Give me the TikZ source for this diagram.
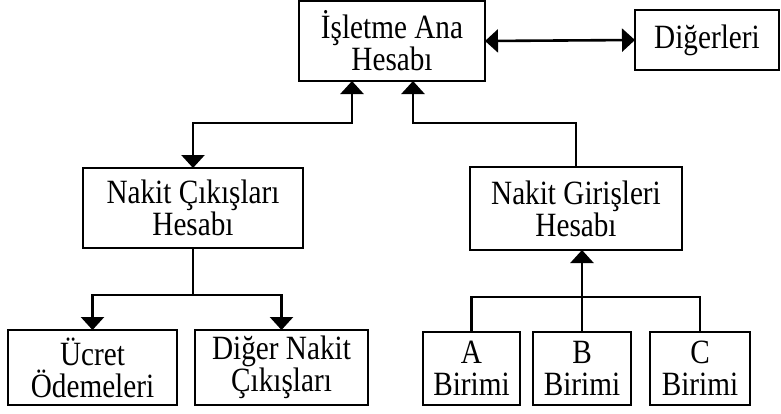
\documentclass[tikz,border=0pt]{standalone}
\usepackage{fontspec}
\setmainfont{Liberation Serif}[FakeStretch=0.86]
\usetikzlibrary{arrows.meta}
\begin{document}
\begin{tikzpicture}[x=1pt,y=-1pt,
  box/.style={draw,line width=2.8pt,inner sep=0pt,outer sep=0pt,align=center,
    font=\fontsize{34}{28}\selectfont},
  lowbox/.style={box,font=\fontsize{34}{32}\selectfont},
  link/.style={line width=2.6pt},
  tip/.style={-{Triangle[width=23pt,length=13pt]}},
  bitip/.style={{Triangle[width=23pt,length=13pt]}-{Triangle[width=23pt,length=13pt]}}]
\useasboundingbox (0,0) rectangle (781,413);

% account boxes
\node[box,minimum width=186pt,minimum height=80pt] (main) at (392,41) {İşletme Ana\\Hesabı};
\node[box,minimum width=144pt,minimum height=60pt] (others) at (707,40) {Diğerleri};
\node[box,minimum width=220pt,minimum height=80pt] (out) at (193,208) {Nakit Çıkışları\\Hesabı};
\node[box,minimum width=212pt,minimum height=83pt] (in) at (576,208.5) {Nakit Girişleri\\Hesabı};
\node[lowbox,minimum width=169pt,minimum height=75pt] (wage) at (92.5,367.5) {Ücret\\Ödemeleri};
\node[lowbox,minimum width=173pt,minimum height=75pt] (otherout) at (281.5,367.5) {Diğer Nakit\\Çıkışları};
\node[lowbox,minimum width=97pt,minimum height=73pt] (ua) at (471.5,368.5) {A\\Birimi};
\node[lowbox,minimum width=98pt,minimum height=73pt] (ub) at (582,368.5) {B\\Birimi};
\node[lowbox,minimum width=100pt,minimum height=73pt] (uc) at (700,368.5) {C\\Birimi};

% junction points
\coordinate (jl) at (352,123);
\coordinate (jr) at (413,123);
\coordinate (jo) at (193,295);
\coordinate (ji) at (582,297);

% links to the main account
\draw[link,bitip] (others.west) -- (main.east);
\draw[link,bitip] (out.north) |- (jl) -- (jl |- main.south);
\draw[link,tip] (in.north) |- (jr) -- (jr |- main.south);

% cash outflow branches
\draw[link] (out.south) -- (jo);
\draw[link,tip] (jo) -| (wage.north);
\draw[link,tip] (jo) -| (otherout.north);

% unit branches
\draw[link,tip] (ub.north) -- (ub.north |- in.south);
\draw[link] (ua.north) |- (ji) -| (uc.north);
\end{tikzpicture}
\end{document}
